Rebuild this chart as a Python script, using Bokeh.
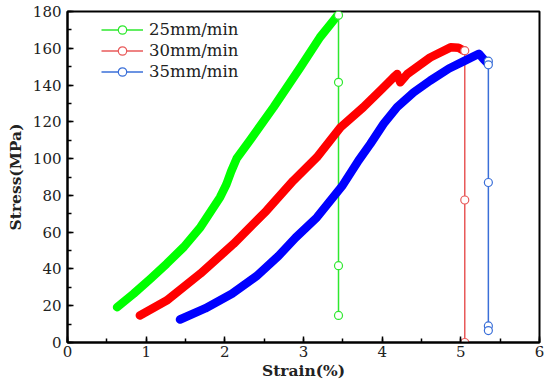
from bokeh.plotting import figure
from bokeh.models import SingleIntervalTicker, Range1d, Legend, LegendItem
from bokeh.embed import file_html
from bokeh.resources import INLINE

# Thick stress-strain curves
g_strain = [0.63, 0.84, 1.05, 1.26, 1.48, 1.69, 1.94, 2.02, 2.08, 2.15, 2.32, 2.62, 2.96, 3.21, 3.38, 3.43]
g_stress = [19.2, 26.5, 34.5, 42.8, 52, 62.7, 79, 86, 93, 100, 110, 128, 149.6, 166, 175, 177.7]

r_strain = [0.92, 1.26, 1.69, 2.11, 2.53, 2.87, 3.17, 3.47, 3.76, 4.00, 4.14, 4.19, 4.23, 4.32, 4.61, 4.87, 4.97, 5.04]
r_stress = [14.7, 22.8, 37.5, 53.6, 71.7, 88, 100.7, 117, 127.9, 138, 144, 146, 141.5, 146, 155, 160.5, 160.3, 158.7]

b_strain = [1.43, 1.75, 2.09, 2.40, 2.68, 2.90, 3.17, 3.49, 3.70, 3.85, 4.02, 4.19, 4.40, 4.61, 4.85, 5.04, 5.23, 5.29, 5.33]
b_stress = [12.5, 18.5, 26.5, 36, 47, 57, 68, 85, 99, 108, 119, 128, 136, 142.4, 149, 153, 157, 154, 152.3]

# Failure drop lines with open markers
g_drop_strain = [3.445, 3.445, 3.445, 3.445]
g_drop_stress = [178, 141.5, 41.8, 14.7]
r_drop_strain = [5.05, 5.05, 5.05]
r_drop_stress = [158.7, 77.5, 0]
b_drop_strain = [5.35, 5.35, 5.35, 5.35, 5.35]
b_drop_stress = [153, 151, 87, 9, 6.5]

labels = ["25mm/min", "30mm/min", "35mm/min"]

p = figure(frame_width=472, frame_height=331, output_backend="svg", toolbar_location=None,
           x_range=Range1d(0, 6), y_range=Range1d(0, 180),
           min_border_left=67, min_border_right=10, min_border_top=11, min_border_bottom=42)
p.grid.visible = False
p.outline_line_color = "black"
p.outline_line_width = 2
p.background_fill_color = "white"

p.xaxis.ticker = SingleIntervalTicker(interval=1, num_minor_ticks=2)
p.yaxis.ticker = SingleIntervalTicker(interval=20, num_minor_ticks=2)
for ax in (p.xaxis[0], p.yaxis[0]):
    ax.axis_line_color = "black"
    ax.axis_line_width = 2
    ax.major_tick_in = 6
    ax.major_tick_out = 0
    ax.minor_tick_in = 4
    ax.minor_tick_out = 0
    ax.major_tick_line_width = 1.5
    ax.minor_tick_line_width = 1.5
    ax.major_label_text_font = "DejaVu Serif"
    ax.major_label_text_font_size = "15px"
    ax.major_label_text_color = "#222222"
    ax.axis_label_text_font = "DejaVu Serif"
    ax.axis_label_text_font_style = "bold"
    ax.axis_label_text_font_size = "15.5px"
    ax.axis_label_text_color = "#222222"
p.xaxis.axis_label = "Strain(%)"
p.yaxis.axis_label = "Stress(MPa)"
p.xaxis.major_label_standoff = 3
p.yaxis.major_label_standoff = 6
p.xaxis.axis_label_standoff = 1
p.yaxis.axis_label_standoff = 5

curve_cols = ["#00ff00", "#ff0000", "#0000ff"]
drop_cols = ["#2ee82e", "#e85a5a", "#3a6fd8"]
curves = [(g_strain, g_stress), (r_strain, r_stress), (b_strain, b_stress)]
drops = [(g_drop_strain, g_drop_stress), (r_drop_strain, r_drop_stress), (b_drop_strain, b_drop_stress)]

items = []
for (xs, ys), (dx, dy), cc, dc, lab in zip(curves, drops, curve_cols, drop_cols, labels):
    p.line(xs, ys, line_color=cc, line_width=8.5, line_cap="round", line_join="round")
    p.line([xs[-1], dx[0]], [ys[-1], dy[0]], line_color=dc, line_width=1.5)
    l2 = p.line(dx, dy, line_color=dc, line_width=1.5)
    s = p.scatter(dx, dy, marker="circle", size=8, fill_color="white", line_color=dc, line_width=1.2)
    items.append(LegendItem(label=lab, renderers=[l2, s]))

legend = Legend(items=items, location=(34, 260), border_line_color=None,
                background_fill_alpha=0, glyph_width=42, glyph_height=21,
                label_height=21, spacing=0, padding=5, margin=0, label_standoff=6,
                label_text_font="DejaVu Serif", label_text_font_size="16.5px",
                label_text_color="#222222")
p.add_layout(legend, "center")

open("out.html", "w").write(file_html(p, INLINE))
